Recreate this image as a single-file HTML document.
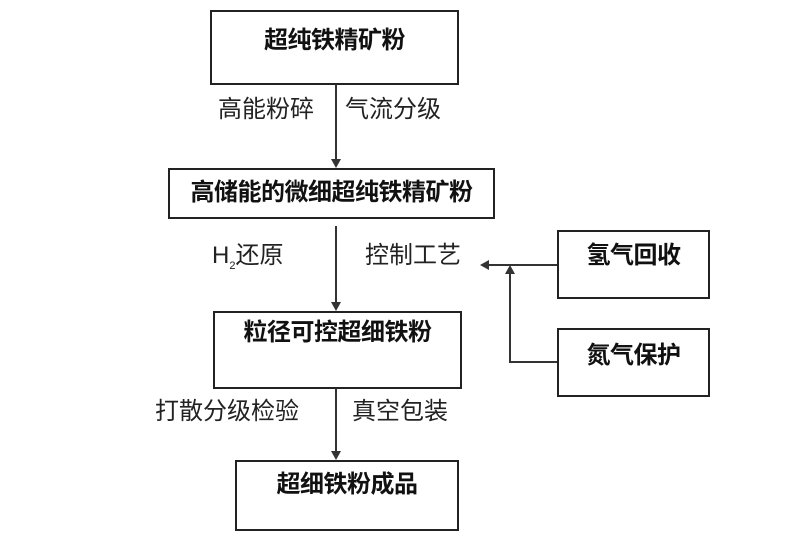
<!DOCTYPE html>
<html><head><meta charset="utf-8"><style>
body{margin:0;width:800px;height:542px;background:#fff;position:relative;overflow:hidden;font-family:"Liberation Sans","Noto Sans CJK SC",sans-serif;}
.b{position:absolute;border:2px solid #222;box-sizing:border-box;font-weight:bold;font-size:24px;color:#111;text-align:center;line-height:30px;letter-spacing:-0.5px;}
.t{position:absolute;font-size:24px;color:#222;white-space:nowrap;line-height:28px;}
</style></head><body>
<div class="b" style="left:210px;top:10px;width:249px;height:75px;padding-top:14px;">超纯铁精矿粉</div>
<div class="b" style="left:168px;top:168px;width:327px;height:51px;padding-top:8px;">高储能的微细超纯铁精矿粉</div>
<div class="b" style="left:213px;top:311px;width:249px;height:78px;padding-top:5px;">粒径可控超细铁粉</div>
<div class="b" style="left:235px;top:460px;width:224px;height:71px;padding-top:8px;">超细铁粉成品</div>
<div class="b" style="left:557px;top:230px;width:153px;height:69px;padding-top:9px;">氢气回收</div>
<div class="b" style="left:557px;top:328px;width:153px;height:69px;padding-top:11px;">氮气保护</div>
<div class="t" style="left:218px;top:96px;">高能粉碎</div>
<div class="t" style="left:345px;top:96px;">气流分级</div>
<div class="t" style="left:212px;top:242px;">H<sub style="font-size:11px">2</sub>还原</div>
<div class="t" style="left:365px;top:242px;">控制工艺</div>
<div class="t" style="left:155px;top:398px;">打散分级检验</div>
<div class="t" style="left:352px;top:398px;">真空包装</div>
<svg width="800" height="542" style="position:absolute;left:0;top:0">
<g stroke="#333" stroke-width="2" fill="none">
<line x1="336" y1="85" x2="336" y2="160"/>
<line x1="336" y1="226" x2="336" y2="303"/>
<line x1="336" y1="389" x2="336" y2="452"/>
<line x1="557" y1="265" x2="488" y2="265"/>
<polyline points="557,362 510,362 510,273"/>
</g>
<g fill="#333">
<polygon points="331,159 341,159 336,168"/>
<polygon points="331,302 341,302 336,311"/>
<polygon points="331,451 341,451 336,460"/>
<polygon points="489,260 489,270 480,265"/>
<polygon points="505,274 515,274 510,265"/>
</g>
</svg>
</body></html>
